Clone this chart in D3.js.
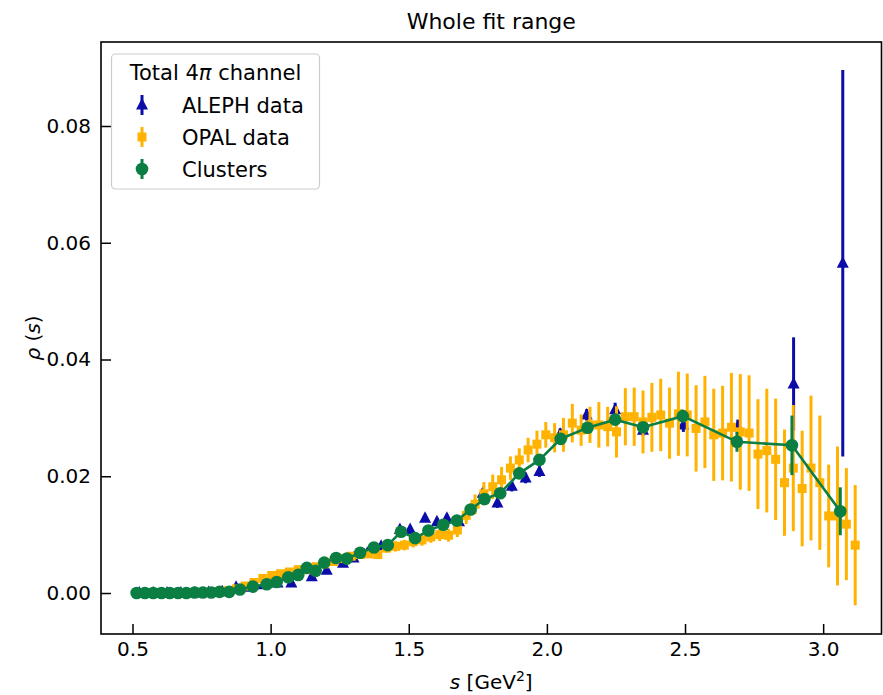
<!DOCTYPE html>
<html>
<head>
<meta charset="utf-8">
<script src="https://cdn.jsdelivr.net/npm/d3@7"></script>
<style>
  body { margin: 0; background: #fff; }
  text { font-family: "DejaVu Sans", sans-serif; fill: #000; }
</style>
</head>
<body>
<div id="chart"></div>
<script>
// DATA
const xTicks = [0.5, 1.0, 1.5, 2.0, 2.5, 3.0];
const yTicks = [0.00, 0.02, 0.04, 0.06, 0.08];

// ALEPH data: s, rho, error
const alephS = [0.525, 0.575, 0.625, 0.675, 0.725, 0.775, 0.825, 0.875, 0.925, 0.975,
  1.025, 1.075, 1.149, 1.203, 1.262, 1.30, 1.35, 1.40, 1.468, 1.505,
  1.559, 1.602, 1.638, 1.682, 1.768, 1.821, 1.873, 1.923, 1.973, 2.048,
  2.144, 2.247, 2.348, 2.494, 2.691, 2.893, 3.071];
const alephV = [0.0000, 0.0000, 0.0000, 0.0000, 0.0000, 0.0001, 0.0002, 0.0010, 0.0010, 0.0014,
  0.0017, 0.0017, 0.0028, 0.0039, 0.0051, 0.0060, 0.0068, 0.0080, 0.0109, 0.0109,
  0.0128, 0.0122, 0.0128, 0.0122, 0.0171, 0.0154, 0.0183, 0.0197, 0.0208, 0.0272,
  0.0305, 0.0314, 0.0279, 0.0288, 0.0285, 0.0358, 0.0565];
const alephE = [0.0001, 0.0001, 0.0001, 0.0001, 0.0001, 0.0001, 0.0001, 0.0002, 0.0002, 0.0002,
  0.0003, 0.0003, 0.0003, 0.0004, 0.0004, 0.0004, 0.0005, 0.0005, 0.0006, 0.0006,
  0.0006, 0.0007, 0.0007, 0.0007, 0.0008, 0.0008, 0.0009, 0.0009, 0.0009, 0.0010,
  0.0010, 0.0012, 0.0010, 0.0012, 0.0012, 0.0080, 0.0331];

// OPAL data
const opalS = [0.524, 0.556, 0.588, 0.620, 0.652, 0.684, 0.716, 0.748, 0.780, 0.812,
  0.844, 0.876, 0.908, 0.940, 0.972, 1.004, 1.036, 1.068, 1.100, 1.132,
  1.164, 1.196, 1.228, 1.260, 1.292, 1.324, 1.356, 1.388, 1.420, 1.452,
  1.484, 1.516, 1.548, 1.580, 1.612, 1.644, 1.676, 1.708, 1.740, 1.772,
  1.804, 1.836, 1.868, 1.900, 1.932, 1.964, 1.996, 2.028, 2.060, 2.092,
  2.124, 2.156, 2.188, 2.220, 2.252, 2.284, 2.316, 2.348, 2.380, 2.412,
  2.444, 2.476, 2.508, 2.540, 2.572, 2.604, 2.636, 2.668, 2.700, 2.732,
  2.764, 2.796, 2.828, 2.860, 2.892, 2.924, 2.956, 2.988, 3.020, 3.052,
  3.084, 3.116];
const opalV = [0.0000, 0.0000, 0.0000, 0.0000, 0.0000, 0.0000, 0.0001, 0.0001, 0.0001, 0.0002,
  0.0004, 0.0007, 0.0012, 0.0018, 0.0025, 0.0030, 0.0033, 0.0036, 0.0040, 0.0040,
  0.0045, 0.0050, 0.0054, 0.0059, 0.0063, 0.0066, 0.0067, 0.0066, 0.0077, 0.0080,
  0.0082, 0.0088, 0.0091, 0.0096, 0.0100, 0.0099, 0.0108, 0.0133, 0.0152, 0.0170,
  0.0182, 0.0194, 0.0214, 0.0228, 0.0245, 0.0255, 0.0271, 0.0266, 0.0271, 0.0291,
  0.0279, 0.0288, 0.0288, 0.0285, 0.0276, 0.0302, 0.0302, 0.0293, 0.0301, 0.0305,
  0.0291, 0.0307, 0.0305, 0.0282, 0.0293, 0.0271, 0.0274, 0.0284, 0.0276, 0.0274,
  0.0238, 0.0244, 0.0229, 0.0189, 0.0214, 0.0179, 0.0214, 0.0189, 0.0132, 0.0132,
  0.0118, 0.0082];
const opalE = [0.0001, 0.0001, 0.0001, 0.0001, 0.0001, 0.0001, 0.0001, 0.0001, 0.0001, 0.0001,
  0.0002, 0.0002, 0.0003, 0.0003, 0.0003, 0.0004, 0.0004, 0.0004, 0.0005, 0.0005,
  0.0005, 0.0006, 0.0006, 0.0006, 0.0007, 0.0007, 0.0007, 0.0008, 0.0008, 0.0009,
  0.0009, 0.0010, 0.0010, 0.0010, 0.0011, 0.0011, 0.0012, 0.0015, 0.0017, 0.0020,
  0.0021, 0.0022, 0.0020, 0.0020, 0.0021, 0.0023, 0.0022, 0.0025, 0.0029, 0.0033,
  0.0027, 0.0031, 0.0039, 0.0034, 0.0044, 0.0049, 0.0050, 0.0054, 0.0059, 0.0062,
  0.0061, 0.0072, 0.0071, 0.0074, 0.0079, 0.0079, 0.0081, 0.0093, 0.0099, 0.0099,
  0.0094, 0.0106, 0.0104, 0.0091, 0.0108, 0.0099, 0.0124, 0.0115, 0.0088, 0.0119,
  0.0096, 0.0103];

// Clusters
const clusS = [0.515, 0.545, 0.575, 0.605, 0.635, 0.665, 0.695, 0.725, 0.755, 0.785,
  0.815, 0.850, 0.889, 0.936, 0.986, 1.022, 1.064, 1.100, 1.131, 1.163,
  1.194, 1.237, 1.276, 1.324, 1.374, 1.424, 1.472, 1.523, 1.571, 1.625,
  1.674, 1.724, 1.774, 1.831, 1.900, 1.973, 2.050, 2.147, 2.247, 2.348,
  2.492, 2.688, 2.887, 3.062];
const clusV = [0.0000, 0.0000, 0.0000, 0.0000, 0.0000, 0.0000, 0.0000, 0.0001, 0.0001, 0.0001,
  0.0002, 0.0002, 0.0006, 0.0011, 0.0015, 0.0019, 0.0027, 0.0031, 0.0043, 0.0038,
  0.0052, 0.0060, 0.0059, 0.0069, 0.0078, 0.0082, 0.0105, 0.0094, 0.0107, 0.0117,
  0.0124, 0.0143, 0.0161, 0.0171, 0.0205, 0.0228, 0.0264, 0.0283, 0.0297, 0.0284,
  0.0303, 0.0259, 0.0253, 0.0140];
const clusE = [0.0001, 0.0001, 0.0001, 0.0001, 0.0001, 0.0001, 0.0001, 0.0001, 0.0001, 0.0001,
  0.0001, 0.0001, 0.0002, 0.0002, 0.0002, 0.0002, 0.0003, 0.0003, 0.0003, 0.0003,
  0.0003, 0.0004, 0.0004, 0.0004, 0.0004, 0.0005, 0.0005, 0.0005, 0.0005, 0.0006,
  0.0006, 0.0006, 0.0006, 0.0007, 0.0007, 0.0007, 0.0008, 0.0008, 0.0008, 0.0009,
  0.0011, 0.0017, 0.0051, 0.0041];

const BLUE = '#0c0ca8', ORANGE = '#ffb300', GREEN = '#0b7f43';

// DIMENSIONS
const W = 883, H = 695;
const mLeft = 101, mRight = 881.5, mTop = 42, mBottom = 634;

const svg = d3.select('#chart').append('svg')
  .attr('width', W).attr('height', H);

const x = d3.scaleLinear().domain([0.386, 3.213]).range([mLeft, 882]);
const y = d3.scaleLinear().domain([-0.00702, 0.09439]).range([mBottom, mTop]);

const zip = (s, v, e) => s.map((d, i) => ({s: d, v: v[i], e: e[i]}));
const aleph = zip(alephS, alephV, alephE);
const opal = zip(opalS, opalV, opalE);
const clus = zip(clusS, clusV, clusE);

const plot = svg.append('g');

// ALEPH
plot.append('g').selectAll('line').data(aleph).join('line')
  .attr('x1', d => x(d.s)).attr('x2', d => x(d.s))
  .attr('y1', d => y(d.v - d.e)).attr('y2', d => y(d.v + d.e))
  .attr('stroke', BLUE).attr('stroke-width', 3);
const tri = 'M0,-7L6,4.5L-6,4.5Z';
plot.append('g').selectAll('path').data(aleph).join('path')
  .attr('d', tri)
  .attr('transform', d => `translate(${x(d.s)},${y(d.v)})`)
  .attr('fill', BLUE);

// OPAL
plot.append('g').selectAll('line').data(opal).join('line')
  .attr('x1', d => x(d.s)).attr('x2', d => x(d.s))
  .attr('y1', d => y(d.v - d.e)).attr('y2', d => y(d.v + d.e))
  .attr('stroke', ORANGE).attr('stroke-width', 3);
plot.append('g').selectAll('rect').data(opal).join('rect')
  .attr('x', d => x(d.s) - 4.5).attr('y', d => y(d.v) - 4.5)
  .attr('width', 9).attr('height', 9)
  .attr('fill', ORANGE);

// CLUSTERS
plot.append('path').datum(clus)
  .attr('d', d3.line().x(d => x(d.s)).y(d => y(d.v)))
  .attr('fill', 'none').attr('stroke', GREEN).attr('stroke-width', 2.6);
plot.append('g').selectAll('line').data(clus).join('line')
  .attr('x1', d => x(d.s)).attr('x2', d => x(d.s))
  .attr('y1', d => y(d.v - d.e)).attr('y2', d => y(d.v + d.e))
  .attr('stroke', GREEN).attr('stroke-width', 3);
plot.append('g').selectAll('circle').data(clus).join('circle')
  .attr('cx', d => x(d.s)).attr('cy', d => y(d.v)).attr('r', 6.3)
  .attr('fill', GREEN);

// AXES (ticks inside)
const xAxis = svg.append('g').attr('transform', `translate(0,${mBottom})`)
  .call(d3.axisBottom(x).tickValues(xTicks).tickFormat(d3.format('.1f')).tickSizeInner(-10).tickSizeOuter(0).tickPadding(8));
const yAxis = svg.append('g').attr('transform', `translate(${mLeft},0)`)
  .call(d3.axisLeft(y).tickValues(yTicks).tickFormat(d3.format('.2f')).tickSizeInner(-10).tickSizeOuter(0).tickPadding(10));
[xAxis, yAxis].forEach(a => {
  a.select('.domain').remove();
  a.selectAll('.tick line').attr('stroke', '#000').attr('stroke-width', 1.5);
  a.selectAll('.tick text').style('font-size', '20px').style('font-family', '"DejaVu Sans", sans-serif');
});

// FRAME
svg.append('rect')
  .attr('x', mLeft).attr('y', mTop)
  .attr('width', mRight - mLeft).attr('height', mBottom - mTop)
  .attr('fill', 'none').attr('stroke', '#000').attr('stroke-width', 1.6);

// TITLE AND LABELS
svg.append('text').text('Whole fit range')
  .attr('x', (mLeft + mRight) / 2).attr('y', 29)
  .attr('text-anchor', 'middle').style('font-size', '22px');

const xl = svg.append('text')
  .attr('x', (mLeft + mRight) / 2).attr('y', 689)
  .attr('text-anchor', 'middle').style('font-size', '20px');
xl.append('tspan').text('s').style('font-style', 'italic');
xl.append('tspan').text(' [GeV');
xl.append('tspan').text('2').attr('dy', -8).style('font-size', '14px');
xl.append('tspan').text(']').attr('dy', 8);

const yl = svg.append('text')
  .attr('transform', `translate(40,${(mTop + mBottom) / 2})rotate(-90)`)
  .attr('text-anchor', 'middle').style('font-size', '20px');
yl.append('tspan').text('ρ').style('font-style', 'italic');
yl.append('tspan').text(' (');
yl.append('tspan').text('s').style('font-style', 'italic');
yl.append('tspan').text(')');

// LEGEND
const lg = svg.append('g');
lg.append('rect')
  .attr('x', 111.5).attr('y', 54).attr('width', 208).attr('height', 135)
  .attr('rx', 4).attr('fill', '#fff').attr('fill-opacity', 0.8)
  .attr('stroke', '#cccccc').attr('stroke-width', 1.2);
const lt = lg.append('text').attr('x', 215.5).attr('y', 80)
  .attr('text-anchor', 'middle').style('font-size', '21px');
lt.append('tspan').text('Total 4');
lt.append('tspan').text('π').style('font-style', 'italic');
lt.append('tspan').text(' channel');

const entries = [
  {label: 'ALEPH data', color: BLUE, mark: 'tri'},
  {label: 'OPAL data', color: ORANGE, mark: 'sq'},
  {label: 'Clusters', color: GREEN, mark: 'dot'}
];
entries.forEach((e, i) => {
  const cy = 105 + i * 32, cx = 142;
  lg.append('line').attr('x1', cx).attr('x2', cx).attr('y1', cy - 10).attr('y2', cy + 10)
    .attr('stroke', e.color).attr('stroke-width', 3);
  if (e.mark === 'tri') {
    lg.append('path').attr('d', tri).attr('transform', `translate(${cx},${cy})`).attr('fill', e.color);
  } else if (e.mark === 'sq') {
    lg.append('rect').attr('x', cx - 4.5).attr('y', cy - 4.5).attr('width', 9).attr('height', 9).attr('fill', e.color);
  } else {
    lg.append('circle').attr('cx', cx).attr('cy', cy).attr('r', 6.3).attr('fill', e.color);
  }
  lg.append('text').text(e.label).attr('x', 182).attr('y', cy + 7.5).style('font-size', '21px');
});
</script>
</body>
</html>
